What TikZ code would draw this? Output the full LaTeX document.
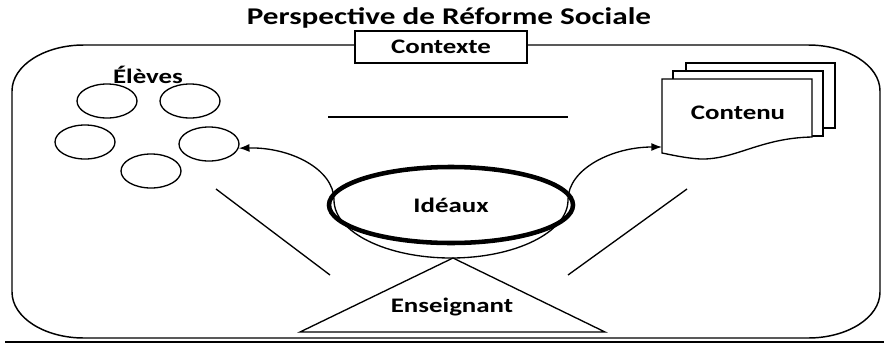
\documentclass[tikz,border=0pt]{standalone}
\usepackage{fontspec}
\setmainfont{Carlito}[FakeStretch=1.3]
\usetikzlibrary{arrows.meta,shapes.geometric}
\begin{document}
\begin{tikzpicture}[x=0.75pt,y=0.75pt,
  lbl/.style={font=\bfseries\fontsize{15.5}{18}\selectfont, inner sep=0pt},
  thinline/.style={line width=1pt},
  pupil/.style={draw, ellipse, minimum width=45pt, minimum height=25.5pt, inner sep=0pt, line width=1pt},
  arr/.style={line width=1pt,-{Latex[length=8pt,width=6pt]}},
  pagebox/.style={draw, fill=white, line width=1pt}]
\useasboundingbox (0,0) rectangle (884,344);

% title
\node[font=\bfseries\fontsize{18}{21}\selectfont, inner sep=0pt] (title) at (449,326) {Perspective de Réforme Sociale};

% outer frame
\draw[line width=1.1pt] (84,299) -- (808,299) .. controls (847.8,299) and (880,278.4) .. (880,253)
  -- (880,52) .. controls (880,26.6) and (847.8,6) .. (808,6)
  -- (84,6) .. controls (44.2,6) and (12,26.6) .. (12,52)
  -- (12,253) .. controls (12,278.4) and (44.2,299) .. cycle;

% context box
\node[lbl, draw, fill=white, line width=1pt, minimum width=129pt, minimum height=24pt] (ctx) at (441,297) {Contexte};

% pupils
\node[lbl] (eleves) at (148,269) {Élèves};
\node[pupil] (c1) at (107,243) {};
\node[pupil] (c2) at (190,243) {};
\node[pupil] (c3) at (85,202) {};
\node[pupil] (c4) at (209,200) {};
\node[pupil] (c5) at (151,173) {};

% horizontal line
\coordinate (hl1) at (328,227);
\coordinate (hl2) at (568,227);
\draw[thinline] (hl1) -- (hl2);

% document stack
\draw[pagebox] (686,216) rectangle (835,281);
\draw[pagebox] (673,208) rectangle (823,273);
\draw[pagebox] (662,265) -- (812,265) -- (812,207)
  .. controls (760,206) and (735,184) .. (700,185)
  .. controls (685,186) and (672,189) .. (662,191) -- cycle;
\node[lbl] (doc) at (738,231) {Contenu};
\coordinate (docin) at (662,197);

% teacher triangle
\coordinate (ta) at (453,86);
\coordinate (tl) at (300,12);
\coordinate (tr) at (605,12);
\draw[thinline] (tl) -- (ta) -- (tr) -- cycle;
\node[lbl] (ens) at (452,37) {Enseignant};

% holding ellipse (thin lower half)
\node[ellipse, minimum width=175.5pt, minimum height=87pt, inner sep=0pt, outer sep=0pt] (hold) at (451,144) {};
\draw[thinline] (hold.west) arc[start angle=180, end angle=360, x radius=87.75pt, y radius=43.5pt];

% ideals
\node[lbl, draw, ellipse, line width=3.4pt, minimum width=183pt, minimum height=57pt] (ideaux) at (451,139) {Idéaux};

% arrows
\draw[arr] (hold.west) .. controls (334,175) and (290,197) .. (c4.-8);
\draw[arr] (hold.east) .. controls (568,175) and (612,197) .. (docin);

% diagonals
\coordinate (dl1) at (216,155);
\coordinate (dl2) at (330,69);
\coordinate (dr1) at (687,155);
\coordinate (dr2) at (568,69);
\draw[thinline] (dl1) -- (dl2);
\draw[thinline] (dr1) -- (dr2);

% bottom rule
\draw[line width=1.6pt] (5,2) -- (884,2);
\end{tikzpicture}
\end{document}
